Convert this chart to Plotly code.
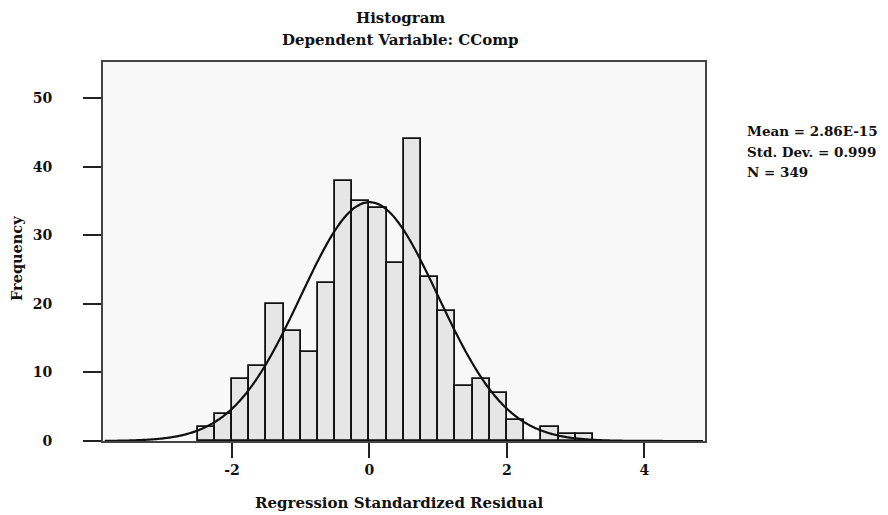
import numpy as np
import plotly.graph_objects as go

# Histogram data (bins of width 0.25, left edges)
bin_left = [-2.5, -2.25, -2.0, -1.75, -1.5, -1.25, -1.0, -0.75, -0.5, -0.25,
            0.0, 0.25, 0.5, 0.75, 1.0, 1.25, 1.5, 1.75, 2.0, 2.25, 2.5, 2.75, 3.0]
counts = [2, 4, 9, 11, 20, 16, 13, 23, 38, 35,
          34, 26, 44, 24, 19, 8, 9, 7, 3, 0, 2, 1, 1]
bin_width = 0.25

mean_text = "2.86E-15"
sd_val = 0.999
n_val = 349
mean_val = 2.86e-15

x_ticks = [-2, 0, 2, 4]
y_ticks = [0, 10, 20, 30, 40, 50]

font_family = "DejaVu Serif, Liberation Serif, serif"

centers = [b + bin_width / 2 for b in bin_left]

# Fitted normal curve from the displayed statistics
xc = np.linspace(-3.85, 4.85, 400)
yc = n_val * bin_width * np.exp(-0.5 * ((xc - mean_val) / sd_val) ** 2) / (sd_val * np.sqrt(2 * np.pi))

OFF = 8  # browser default body margin
L, R, T, B = 103 - OFF, 705 - OFF, 62 - OFF, 441 - OFF
W, H = 888 - OFF, 515 - OFF
pw, ph = R - L, B - T

fig = go.Figure()
fig.add_trace(go.Bar(
    x=centers, y=counts, width=bin_width,
    marker=dict(color="#e6e6e6", line=dict(color="#111111", width=1.8)),
    hoverinfo="x+y", showlegend=False,
))
fig.add_trace(go.Scatter(
    x=xc, y=yc, mode="lines",
    line=dict(color="#111111", width=2.2, shape="spline"),
    showlegend=False, hoverinfo="skip",
))

def px_x(x):
    return (x - OFF - L) / pw

def px_y(y):
    return (B - (y - OFF)) / ph

def label(text, x, y, size, xanchor="center", angle=0):
    return dict(text=f"<b>{text}</b>", xref="paper", yref="paper",
                x=px_x(x), y=px_y(y), xanchor=xanchor, yanchor="middle",
                textangle=angle, showarrow=False,
                font=dict(family=font_family, size=size, color="#111111"))

stats_lines = [f"Mean = {mean_text}", f"Std. Dev. = {sd_val}", f"N = {n_val}"]
stats_y = [131, 152, 172]

annotations = [
    label("Histogram", 400, 18, 15),
    label("Dependent Variable: CComp", 400, 40, 15),
    label("Regression Standardized Residual", 399, 503, 15),
    label("Frequency", 16, 259, 14.5, angle=-90),
] + [label(t, 745, yy, 13.5, xanchor="left") for t, yy in zip(stats_lines, stats_y)]

fig.update_layout(
    width=W, height=H,
    margin=dict(l=L, r=W - R, t=T, b=H - B, autoexpand=False),
    paper_bgcolor="white",
    plot_bgcolor="#f8f8f8",
    bargap=0,
    font=dict(family=font_family, size=14, color="#111111"),
    xaxis=dict(
        range=[-3.875, 4.88],
        tickmode="array", tickvals=x_ticks,
        ticktext=[f"<b>{v}</b>" for v in x_ticks],
        ticks="outside", ticklen=15, tickwidth=2, tickcolor="#222222",
        showline=True, linecolor="#444444", linewidth=2, mirror=True,
        showgrid=False, zeroline=False, automargin=False,
        ticklabelstandoff=0,
        tickfont=dict(family=font_family, size=14),
    ),
    yaxis=dict(
        range=[0, 55.3],
        tickmode="array", tickvals=y_ticks,
        ticktext=[f"<b>{v}</b>" for v in y_ticks],
        ticks="outside", ticklen=18, tickwidth=2, tickcolor="#222222",
        showline=True, linecolor="#444444", linewidth=2, mirror=True,
        showgrid=False, zeroline=False, automargin=False,
        ticklabelstandoff=28,
        tickfont=dict(family=font_family, size=14),
    ),
    annotations=annotations,
)

fig.write_html("out.html")
